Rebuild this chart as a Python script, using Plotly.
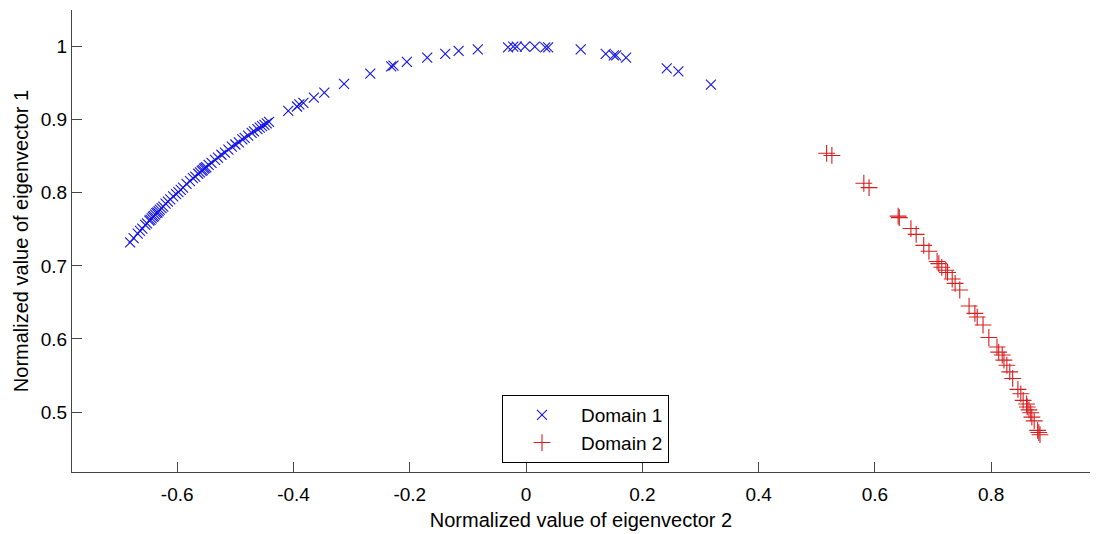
import plotly.graph_objects as go

# Domain 1 (blue x markers): eigenvector 2 (x) vs eigenvector 1 (y)
d1_x = [-0.681, -0.675, -0.668, -0.664, -0.660, -0.655, -0.652, -0.648, -0.646, -0.644,
        -0.642, -0.640, -0.638, -0.636, -0.634, -0.632, -0.630, -0.627, -0.624, -0.620,
        -0.616, -0.612, -0.607, -0.602, -0.598, -0.594, -0.590, -0.584, -0.578, -0.573,
        -0.569, -0.564, -0.561, -0.558, -0.556, -0.554, -0.552, -0.550, -0.546, -0.541,
        -0.535, -0.530, -0.524, -0.518, -0.512, -0.506, -0.500, -0.494, -0.488, -0.484,
        -0.478, -0.472, -0.468, -0.462, -0.458, -0.454, -0.450, -0.446, -0.442,
        -0.409, -0.394, -0.390, -0.383, -0.365, -0.347, -0.313, -0.268, -0.232, -0.228,
        -0.205, -0.170, -0.139, -0.116, -0.083, -0.031, -0.022, -0.016, -0.002, 0.015,
        0.033, 0.038, 0.094, 0.137, 0.151, 0.155, 0.172, 0.242, 0.262, 0.318]
d1_y = [0.732, 0.738, 0.744, 0.748, 0.751, 0.756, 0.758, 0.762, 0.763, 0.765,
        0.767, 0.768, 0.770, 0.772, 0.773, 0.775, 0.777, 0.779, 0.781, 0.785,
        0.788, 0.791, 0.795, 0.798, 0.801, 0.804, 0.807, 0.812, 0.816, 0.820,
        0.822, 0.826, 0.828, 0.830, 0.831, 0.833, 0.834, 0.835, 0.838, 0.841,
        0.845, 0.848, 0.852, 0.855, 0.859, 0.863, 0.866, 0.869, 0.873, 0.875,
        0.878, 0.882, 0.884, 0.887, 0.889, 0.891, 0.893, 0.895, 0.897,
        0.912, 0.918, 0.921, 0.923, 0.930, 0.937, 0.949, 0.963, 0.973, 0.974,
        0.979, 0.985, 0.990, 0.994, 0.996, 0.999, 1.000, 1.000, 1.000, 1.000,
        0.999, 0.999, 0.996, 0.990, 0.988, 0.988, 0.985, 0.970, 0.966, 0.948]

# Domain 2 (red + markers)
d2_x = [0.517, 0.526, 0.581, 0.590, 0.640, 0.642, 0.662, 0.671, 0.684, 0.693,
        0.707, 0.710, 0.715, 0.722, 0.725, 0.733, 0.738, 0.746, 0.762, 0.772,
        0.776, 0.786, 0.796, 0.810, 0.813, 0.819, 0.822, 0.827, 0.832, 0.837,
        0.846, 0.851, 0.855, 0.861, 0.862, 0.865, 0.868, 0.870, 0.874, 0.880,
        0.882, 0.884]
d2_y = [0.854, 0.851, 0.813, 0.807, 0.768, 0.766, 0.751, 0.743, 0.728, 0.720,
        0.706, 0.703, 0.698, 0.694, 0.691, 0.682, 0.676, 0.667, 0.645, 0.635,
        0.630, 0.619, 0.602, 0.589, 0.582, 0.578, 0.571, 0.564, 0.555, 0.546,
        0.531, 0.525, 0.516, 0.511, 0.507, 0.503, 0.499, 0.493, 0.488, 0.475,
        0.472, 0.469]

x_ticks = [-0.6, -0.4, -0.2, 0, 0.2, 0.4, 0.6, 0.8]
x_ticktext = ["-0.6", "-0.4", "-0.2", "0", "0.2", "0.4", "0.6", "0.8"]
y_ticks = [0.5, 0.6, 0.7, 0.8, 0.9, 1.0]
y_ticktext = ["0.5", "0.6", "0.7", "0.8", "0.9", "1"]

FONT = "Liberation Sans, Arial, sans-serif"
BLUE = "rgb(20,20,230)"
RED = "rgb(215,30,30)"

fig = go.Figure()
fig.add_trace(go.Scatter(
    x=d1_x, y=d1_y, mode="markers", name="Domain 1",
    marker=dict(symbol="x-thin-open", size=10, color=BLUE,
                line=dict(color=BLUE, width=1.1)),
))
fig.add_trace(go.Scatter(
    x=d2_x, y=d2_y, mode="markers", name="Domain 2",
    marker=dict(symbol="cross-thin-open", size=12, color=RED,
                line=dict(color=RED, width=1.1)),
))

axis_common = dict(
    showline=True, linecolor="#444", linewidth=1, mirror=False,
    ticks="inside", ticklen=10, tickcolor="#444", tickwidth=1,
    showgrid=False, zeroline=False,
    tickfont=dict(family=FONT, size=19, color="black"),
)

fig.update_layout(
    width=1096, height=534,
    paper_bgcolor="white", plot_bgcolor="white",
    margin=dict(l=72, r=6, t=10, b=62),
    font=dict(family=FONT, size=19, color="black"),
    xaxis=dict(range=[-0.781, 0.970], tickvals=x_ticks, ticktext=x_ticktext,
               ticklabelstandoff=5,
               title=dict(text="Normalized value of eigenvector 2",
                          font=dict(family=FONT, size=20), standoff=9),
               automargin=False, **axis_common),
    yaxis=dict(range=[0.418, 1.05], tickvals=y_ticks, ticktext=y_ticktext,
               title=dict(text="Normalized value of eigenvector 1",
                          font=dict(family=FONT, size=20), standoff=6),
               automargin=False, **axis_common),
    legend=dict(x=0.4224, y=0.0195, xanchor="left", yanchor="bottom",
                bgcolor="white", bordercolor="black", borderwidth=1,
                font=dict(family=FONT, size=19, color="black"),
                itemwidth=68, tracegroupgap=0),
    showlegend=True,
)

fig.write_html("out.html")
